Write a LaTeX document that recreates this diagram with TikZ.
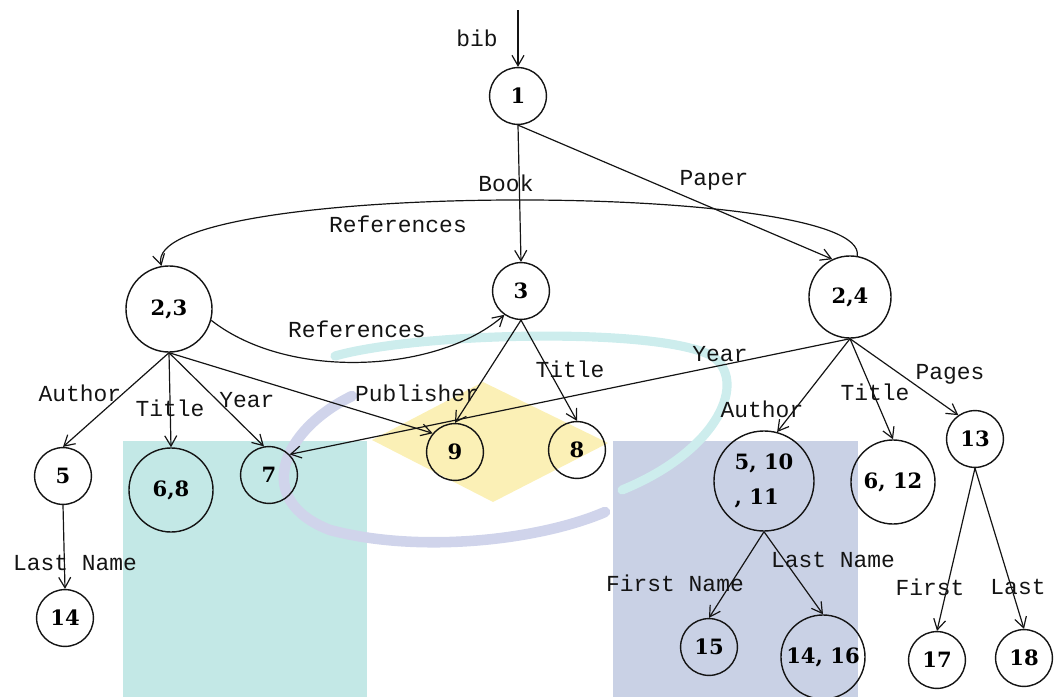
\documentclass[tikz,border=0pt]{standalone}
\usepackage{fontspec}
\usepackage{xcolor}
\usetikzlibrary{arrows.meta,positioning}
\newfontfamily\edgefont{Liberation Mono}
\newfontfamily\statefont{DejaVu Serif}
\definecolor{ink}{HTML}{141414}
\definecolor{wmteal}{HTML}{C3E8E6}
\definecolor{wmblue}{HTML}{C9D1E5}
\definecolor{wmyellow}{HTML}{FBF0B6}
\definecolor{wmring}{HTML}{CDEDED}
\definecolor{wmlilac}{HTML}{D0D4EB}
\tikzset{
  state/.style={draw=ink, circle, line width=1pt, inner sep=0pt, align=center,
    font=\statefont\bfseries\fontsize{15}{25}\selectfont},
  smallstate/.style={state, minimum size=1.42cm},
  midstate/.style={state, minimum size=2.1cm},
  bigstate/.style={state, minimum size=2.5cm},
  lbl/.style={font=\edgefont\fontsize{16.3}{18}\selectfont, inner sep=0pt, text=ink},
  arrow/.style={-{Straight Barb[length=2.6mm,width=3mm]}, line width=0.85pt, draw=ink}
}

\begin{document}
\begin{tikzpicture}[x=0.025cm, y=-0.025cm]
  \useasboundingbox (0,0) rectangle (1055,697);

  \fill[wmteal] (123,441) rectangle (367,697);
  \fill[wmblue] (613,441) rectangle (858,697);
  \fill[wmyellow] (372,440) -- (483,382) -- (608,443) -- (493,502) -- cycle;
  \draw[wmring, line width=6.5pt, line cap=round] (335,356) .. controls (420,332) and (660,327) .. (712,356) .. controls (748,380) and (720,450) .. (622,490);
  \draw[wmlilac, line width=7.5pt, line cap=round] (352,396) .. controls (282,430) and (252,500) .. (330,530) .. controls (420,554) and (540,540) .. (605,512);

  \node[smallstate] (n1) at (518,96) {1};
  \node[smallstate] (n3) at (521,291) {3};
  \node[state, minimum size=2.15cm] (n23) at (169,309) {2,3};
  \node[state, minimum size=2.05cm] (n24) at (850,297) {2,4};
  \node[smallstate] (n5) at (63,476) {5};
  \node[midstate] (n68) at (171,490) {6,8};
  \node[smallstate] (n7) at (269,475) {7};
  \node[smallstate] (n9) at (455,452) {9};
  \node[smallstate] (n8) at (577,450) {8};
  \node[bigstate, align=left] (n51011) at (764,481) {5, 10\\, 11};
  \node[midstate] (n612) at (893,482) {6, 12};
  \node[smallstate] (n13) at (975,439) {13};
  \node[smallstate] (n14) at (65,618) {14};
  \node[smallstate] (n15) at (709,647) {15};
  \node[midstate] (n1416) at (823,657) {14, 16};
  \node[smallstate] (n17) at (937,660) {17};
  \node[smallstate] (n18) at (1024,658) {18};

  \coordinate (bibin) at (518,10);
  \draw[arrow] (bibin) -- (n1.north);
  \draw[arrow] (n1.south) -- (n3.north);
  \draw[arrow] (n1.south) -- (n24.115);
  \draw[arrow] (n24.80) .. controls (870,180) and (140,180) .. (n23.100);
  \draw[arrow] (n23.-15) .. controls (290,382) and (440,372) .. (n3.-125);

  \draw[arrow] (n23.south) -- (n5.north);
  \draw[arrow] (n23.south) -- (n68.north);
  \draw[arrow] (n23.south) -- (n7.100);
  \draw[arrow] (n23.south) -- (n9.140);
  \draw[arrow] (n3.south) -- (n9.north);
  \draw[arrow] (n3.south) -- (n8.north);
  \draw[arrow] (n24.south) -- (n7.45);
  \draw[arrow] (n24.south) -- (n51011.75);
  \draw[arrow] (n24.south) -- (n612.north);
  \draw[arrow] (n24.south) -- (n13.125);
  \draw[arrow] (n5.south) -- (n14.north);
  \draw[arrow] (n51011.south) -- (n15.north);
  \draw[arrow] (n51011.south) -- (n1416.north);
  \draw[arrow] (n13.south) -- (n17.north);
  \draw[arrow] (n13.south) -- (n18.north);

  \node[lbl] (lbib) at (477,38) {bib};
  \node[lbl] (lbook) at (506,183) {Book};
  \node[lbl] (lpaper) at (714,180) {Paper};
  \node[lbl] (lrefup) at (398,224) {References};
  \node[lbl] (lreflow) at (357,329) {References};
  \node[lbl] (lauthora) at (80,393) {Author};
  \node[lbl] (ltitlea) at (170,408) {Title};
  \node[lbl] (lyeara) at (247,400) {Year};
  \node[lbl] (lpub) at (417,393) {Publisher};
  \node[lbl] (ltitleb) at (570,369) {Title};
  \node[lbl] (lyearb) at (720,354) {Year};
  \node[lbl] (lauthorb) at (762,409) {Author};
  \node[lbl] (ltitlec) at (875,392) {Title};
  \node[lbl] (lpages) at (950,374) {Pages};
  \node[lbl] (llasta) at (75,563) {Last Name};
  \node[lbl] (lfirstb) at (675,583) {First Name};
  \node[lbl] (llastb) at (833,560) {Last Name};
  \node[lbl] (lfirst) at (930,587) {First};
  \node[lbl] (llast) at (1018,587) {Last};
\end{tikzpicture}
\end{document}
